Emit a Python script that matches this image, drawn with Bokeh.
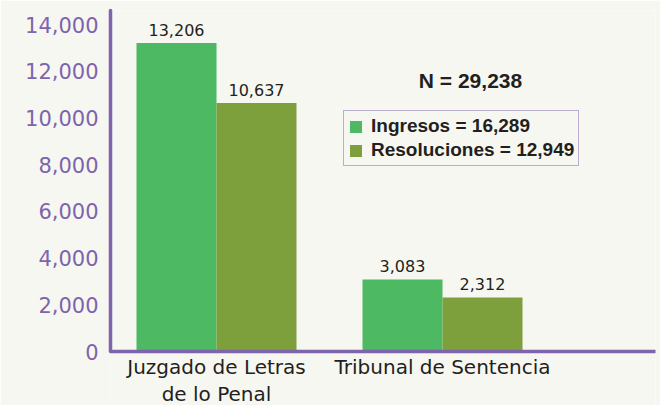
from bokeh.plotting import figure
from bokeh.models import (ColumnDataSource, Range1d, FixedTicker, NumeralTickFormatter,
                          Legend, LegendItem, Label, Span)
from bokeh.transform import dodge
from bokeh.core.properties import value
from bokeh.embed import file_html
from bokeh.resources import INLINE

# ---- data ----
categories = ["Juzgado de Letras\nde lo Penal", "Tribunal de Sentencia"]
ingresos = [13206, 3083]
resoluciones = [10637, 2312]
y_ticks = [0, 2000, 4000, 6000, 8000, 10000, 12000, 14000]

tot_ing = sum(ingresos)
tot_res = sum(resoluciones)
total_n = tot_ing + tot_res

# ---- style / layout ----
BG = "#F7F7F2"
GREEN = "#4DB962"
OLIVE = "#7EA03C"
PURPLE = "#7D64AC"
DARK = "#231F20"

W, H = 660, 405
LEFT, TOP, RIGHT = 110, 10, 5
BASE = 351                # baseline, px from figure top
frame_w = W - LEFT - RIGHT
unit_px = 226.0           # px per category
px_per_val = (BASE - 24) / 14000.0
x_start = -106.0 / unit_px
x_end = x_start + frame_w / unit_px
y_end = (BASE - TOP) / px_per_val
y_start = -(H - BASE) / px_per_val
bar_w = 80.0 / unit_px

src = ColumnDataSource(dict(x=list(range(len(categories))), ing=ingresos, res=resoluciones,
                            ing_t=[f"{v:,}" for v in ingresos],
                            res_t=[f"{v:,}" for v in resoluciones],
                            zero=[0] * len(categories), cat=categories))

p = figure(width=W, height=H, output_backend="svg", toolbar_location=None,
           x_range=Range1d(x_start, x_end), y_range=Range1d(y_start, y_end),
           x_axis_location=None,
           min_border_left=LEFT, min_border_right=RIGHT, min_border_top=TOP,
           min_border_bottom=0)
p.background_fill_color = BG
p.border_fill_color = BG
p.outline_line_color = None
p.grid.grid_line_color = None

r1 = p.vbar(x=dodge("x", -bar_w / 2, range=p.x_range), top="ing", width=bar_w,
            source=src, fill_color=GREEN, line_color=None)
r2 = p.vbar(x=dodge("x", bar_w / 2, range=p.x_range), top="res", width=bar_w,
            source=src, fill_color=OLIVE, line_color=None)

for col, off in (("ing_t", -bar_w / 2), ("res_t", bar_w / 2)):
    p.text(x=dodge("x", off, range=p.x_range), y=col.split("_")[0], text=col, source=src,
           text_align="center", text_baseline="bottom", y_offset=-7,
           text_font=value("DejaVu Sans"), text_font_size="16px", text_color=DARK)

# x axis line (baseline)
p.add_layout(Span(location=0, dimension="width", line_color=PURPLE, line_width=3.5,
                  line_cap="round"))

# category labels
p.text(x="x", y="zero", text="cat", source=src, text_align="center", text_baseline="top",
       y_offset=3, text_font=value("DejaVu Sans"), text_font_size="20px",
       text_color=DARK, text_line_height=1.15)

# y axis
p.yaxis.ticker = FixedTicker(ticks=y_ticks)
p.yaxis.formatter = NumeralTickFormatter(format="0,0")
p.yaxis.bounds = (0, y_end)
p.yaxis.axis_line_color = PURPLE
p.yaxis.axis_line_width = 3.5
p.yaxis.axis_line_cap = "round"
p.yaxis.major_tick_line_color = None
p.yaxis.minor_tick_line_color = None
p.yaxis.major_tick_out = 0
p.yaxis.major_label_text_color = PURPLE
p.yaxis.major_label_text_font = "DejaVu Sans"
p.yaxis.major_label_text_font_size = "21px"
p.yaxis.major_label_standoff = 12

# N label
p.add_layout(Label(x=x_start + (470 - LEFT) / unit_px, y=(BASE - 80) / px_per_val,
                   text=f"N = {total_n:,}", text_align="center", text_baseline="middle",
                   text_font="Liberation Sans", text_font_style="bold",
                   text_font_size="21px", text_color=DARK))

legend = Legend(items=[LegendItem(label=f"Ingresos = {tot_ing:,}", renderers=[r1]),
                       LegendItem(label=f"Resoluciones = {tot_res:,}", renderers=[r2])],
                location=(343 - LEFT, H - 166))
legend.border_line_color = PURPLE
legend.border_line_width = 1.5
legend.background_fill_color = BG
legend.background_fill_alpha = 1
legend.label_text_font = "Liberation Sans"
legend.label_text_font_style = "bold"
legend.label_text_font_size = "19px"
legend.label_text_color = DARK
legend.glyph_width = 15
legend.glyph_height = 15
legend.label_standoff = 8
legend.label_height = 20
legend.padding = 4
legend.spacing = 2
legend.margin = 0
p.add_layout(legend)

open("out.html", "w").write(file_html(p, INLINE))
